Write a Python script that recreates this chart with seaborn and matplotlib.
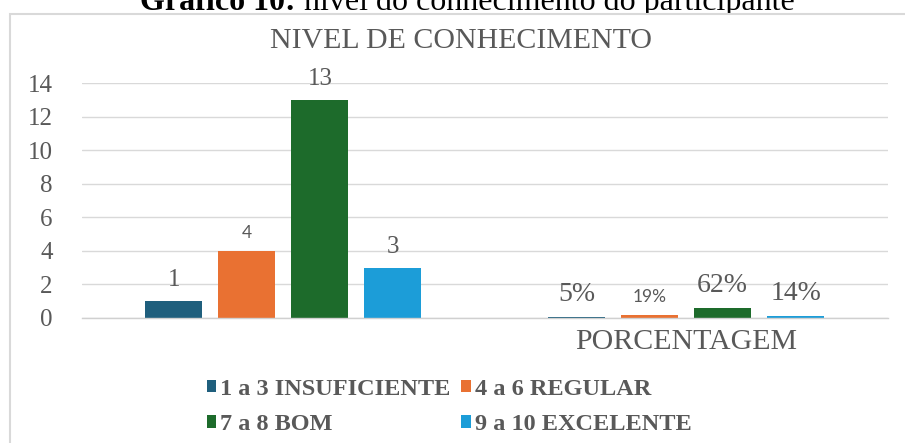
import matplotlib
matplotlib.use("Agg")
import matplotlib.pyplot as plt
from matplotlib.patches import Patch, Rectangle
import seaborn as sns
import pandas as pd

# dados do grafico
niveis = ['1 a 3 INSUFICIENTE', '4 a 6 REGULAR', '7 a 8 BOM', '9 a 10 EXCELENTE']
grupos = ['QUANTIDADE', 'PORCENTAGEM']
grupos_rotulo = ['', 'PORCENTAGEM']
quantidade = [1, 4, 13, 3]
porcentagem = [0.05, 0.19, 0.62, 0.14]
rotulos_qtd = ['1', '4', '13', '3']
rotulos_pct = ['5%', '19%', '62%', '14%']
cores = ['#1F5F7D', '#E97132', '#1D6B2B', '#1C9DD8']

titulo_fig_negrito = 'Gráfico 10:'
titulo_fig_resto = ' nível do conhecimento do participante'
titulo_grafico = 'NIVEL DE CONHECIMENTO'

df = pd.DataFrame({
    'grupo': [grupos[0]] * 4 + [grupos[1]] * 4,
    'nivel': niveis + niveis,
    'valor': quantidade + porcentagem,
})

sns.set_style('white')
serif = 'Liberation Serif'
sans = 'Lato'
cinza = '#595959'

fig = plt.figure(figsize=(9.05, 4.43), dpi=100)
W, H = 905, 443

# moldura do grafico (caixa do Excel)
caixa = Rectangle((10 / W, -0.1), 1.2, 1 - 14 / H + 0.1, transform=fig.transFigure,
                  facecolor='white', edgecolor='#D9D9D9', linewidth=1.5, zorder=-1)
fig.patches.append(caixa)

ax = fig.add_axes([82 / W, 1 - 318 / H, (887.5 - 82) / W, (318 - 83) / H])
sns.barplot(data=df, x='grupo', y='valor', hue='nivel', hue_order=niveis,
            palette=cores, width=0.725, gap=0.22, ax=ax, legend=False,
            saturation=1, edgecolor='none')

ax.set_xlim(-0.5, 1.5)
ax.set_ylim(0, 14)
ax.set_yticks(range(0, 15, 2))
ax.set_xticks([0, 1])
ax.set_xticklabels(grupos_rotulo, fontfamily=serif, fontsize=21.5, color=cinza)
for lab in ax.get_yticklabels():
    lab.set_fontfamily(serif)
    lab.set_fontsize(18)
    lab.set_color(cinza)
ax.tick_params(axis='y', length=0, pad=21)
ax.tick_params(axis='x', length=0, pad=8)
ax.set_xlabel('')
ax.set_ylabel('')
ax.yaxis.grid(True, color='#D9D9D9', linewidth=1)
ax.set_axisbelow(True)
for s in ['left', 'right', 'top']:
    ax.spines[s].set_visible(False)
ax.spines['bottom'].set_color('#D0D0D0')
ax.spines['bottom'].set_linewidth(1)

# rotulos de dados
for i, cont in enumerate(ax.containers):
    textos = ax.bar_label(cont, labels=[rotulos_qtd[i], rotulos_pct[i]], padding=7)
    for j, t in enumerate(textos):
        t.set_color(cinza)
        if i == 1:
            t.set_fontfamily(sans)
            t.set_fontsize(12.5)
        else:
            t.set_fontfamily(serif)
            t.set_fontsize(18 if j == 0 else 20)

fig.text(461 / W, 1 - 41 / H, titulo_grafico, ha='center', va='center',
         fontfamily=serif, fontsize=21.5, color=cinza)

# titulo da figura, cortado no topo como no original
t1 = fig.text(140 / W, 1 - 10 / H, titulo_fig_negrito, ha='left', va='baseline',
              fontfamily=serif, fontsize=23, fontweight='bold', color='black', zorder=-2)
fig.canvas.draw()
bb = t1.get_window_extent()
fig.text(bb.x1 / W, 1 - 10 / H, titulo_fig_resto, ha='left', va='baseline',
         fontfamily=serif, fontsize=23, color='black', zorder=-2)

# legenda
handles = [Patch(facecolor=c, edgecolor='none') for c in cores]
ordem = [0, 2, 1, 3]
leg = fig.legend([handles[k] for k in ordem], [niveis[k] for k in ordem],
                 loc='center', bbox_to_anchor=(449 / W, 1 - 407 / H), ncol=2,
                 frameon=False, handlelength=0.4, handleheight=0.4,
                 handletextpad=0.15, columnspacing=0.45, labelspacing=0.6,
                 prop={'family': serif, 'weight': 'bold', 'size': 17.5})
for t in leg.get_texts():
    t.set_color(cinza)

fig.savefig('out.png', dpi=100)
